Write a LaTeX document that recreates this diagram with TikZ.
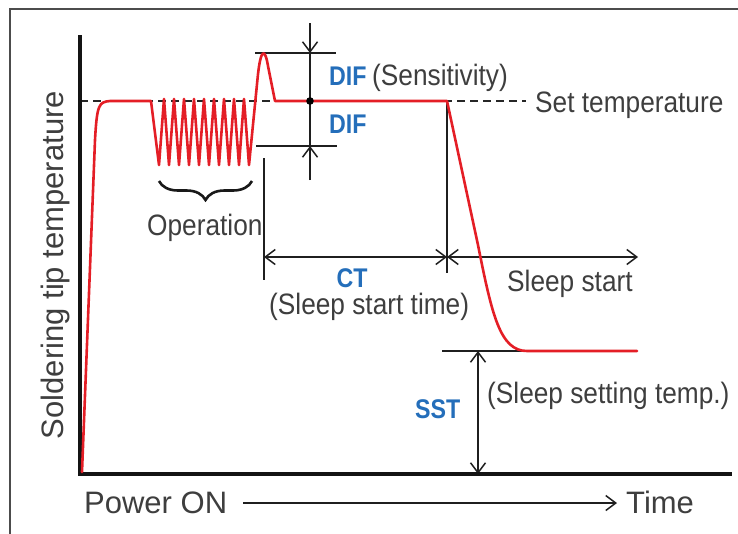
\documentclass[tikz,border=0pt]{standalone}
\usepackage{fontspec}
\setmainfont{Liberation Sans}
\newfontfamily\condfont{Liberation Sans}[FakeStretch=0.89]
\newfontfamily\condbold{Liberation Sans Bold}[FakeStretch=0.86]
\usetikzlibrary{arrows.meta,decorations.pathreplacing}
\definecolor{curvered}{RGB}{228,30,38}
\definecolor{difblue}{RGB}{36,110,186}
\definecolor{txtgray}{RGB}{62,62,62}
\begin{document}
\begin{tikzpicture}[x=1pt,y=-1pt,
  thinline/.style={line width=1.5pt, black!88},
  barbtip/.style={-{Straight Barb[length=10pt,width=15pt]}},
  dblbarb/.style={{Straight Barb[length=10pt,width=15pt]}-{Straight Barb[length=10pt,width=15pt]}},
  axisline/.style={line width=4pt, black!92, line join=miter},
  curve/.style={line width=2.6pt, curvered, line join=round, line cap=round},
  setline/.style={line width=1.5pt, black!85, dash pattern=on 8pt off 5pt},
  lbl/.style={text=txtgray, font=\condfont\fontsize{29.5}{31}\selectfont, inner sep=0pt},
  biglbl/.style={text=txtgray, font=\fontsize{31}{33}\selectfont, inner sep=0pt},
  keylbl/.style={text=difblue, font=\condbold\fontsize{27}{29}\selectfont, inner sep=0pt},
  framel/.style={line width=1.3pt, black!70}
]
\useasboundingbox (0,0) rectangle (738,533);

% frame
\coordinate (frbl) at (10,540);
\coordinate (frtl) at (10,9);
\coordinate (frtr) at (745,9);
\draw[framel] (frbl) -- (frtl) -- (frtr);

% coordinates
\coordinate (axtop) at (80,35);
\coordinate (orig) at (80,474);
\coordinate (axright) at (732,474);
\coordinate (setl) at (80,101);
\coordinate (setr) at (526,101);
\coordinate (difa) at (310,23);
\coordinate (difhi) at (310,53);
\coordinate (difmid) at (310,101);
\coordinate (diflo) at (310,146);
\coordinate (difb) at (310,180);
\coordinate (hil) at (255,53);
\coordinate (hir) at (336,53);
\coordinate (lol) at (256,146);
\coordinate (lor) at (337,146);
\coordinate (ctvt) at (264,158);
\coordinate (ctvb) at (264,280);
\coordinate (ctl) at (264,257);
\coordinate (ssvt) at (447,101);
\coordinate (ssvb) at (447,273);
\coordinate (ctm) at (447,257);
\coordinate (ssr) at (638,257);
\coordinate (sstl) at (442,351);
\coordinate (sstr) at (637,351);
\coordinate (ssttop) at (478,351);
\coordinate (sstbot) at (478,474);
\coordinate (tl) at (243,503);
\coordinate (tr) at (617,503);
\coordinate (brr) at (252,181);
\coordinate (brl) at (159,181);

% set temperature dashed line
\draw[setline] (setl) -- (setr);

% DIF marks
\draw[thinline] (hil) -- (hir);
\draw[thinline] (lol) -- (lor);
\draw[thinline, barbtip] (difa) -- (difhi);
\draw[thinline, barbtip] (difb) -- (diflo);
\draw[thinline] (difhi) -- (diflo);

% CT marks
\draw[thinline] (ctvt) -- (ctvb);
\draw[thinline] (ssvt) -- (ssvb);
\draw[thinline, dblbarb] (ctl) -- (ctm);
\draw[thinline, dblbarb] (ctm) -- (ssr);

% SST
\draw[thinline] (sstl) -- (sstr);
\draw[thinline, dblbarb] (ssttop) -- (sstbot);

% time arrow
\draw[thinline, barbtip] (tl) -- (tr);

% brace
\draw[line width=2.6pt, black!90, decorate, decoration={brace, amplitude=19pt}] (brr) -- (brl);

% axes
\draw[axisline] (axtop) -- (orig) -- (axright);

% red curve
\draw[curve] (82,472) -- (95,140) .. controls (97,104) and (99,102) .. (110,101) -- (151,101)
  \foreach \k in {0,...,8} { -- ({159+10*\k},165) -- ({164+10*\k},99) }
  -- (249,165) -- (258,74) .. controls (261,48) and (265,48) .. (268,66) -- (275,101)
  -- (447,101) -- (478,245) .. controls (492,315) and (500,351) .. (527,351) -- (637,351);

% dot
\fill[black] (difmid) circle (3.8pt);

% texts
\node[biglbl, rotate=90, anchor=base] (ylab) at (63,265) {Soldering tip temperature};
\node[biglbl, anchor=base west] (pon) at (84,513) {Power ON};
\node[biglbl, anchor=base west] (time) at (626,513) {Time};
\node[lbl, anchor=base west] (settemp) at (535,112) {Set temperature};
\node[keylbl, anchor=base west] (dif1) at (329,85) {DIF};
\node[lbl, anchor=base west] (sens) at (372,85) {(Sensitivity)};
\node[keylbl, anchor=base west] (dif2) at (329,133) {DIF};
\node[lbl, anchor=base west] (oper) at (147,235) {Operation};
\node[keylbl, anchor=base] (ct) at (352,287) {CT};
\node[lbl, anchor=base west] (sst) at (269,314) {(Sleep start time)};
\node[lbl, anchor=base west] (sls) at (507,291) {Sleep start};
\node[keylbl, anchor=base west] (sstk) at (415,418) {SST};
\node[lbl, anchor=base west] (sstt) at (487,403) {(Sleep setting temp.)};
\end{tikzpicture}
\end{document}
